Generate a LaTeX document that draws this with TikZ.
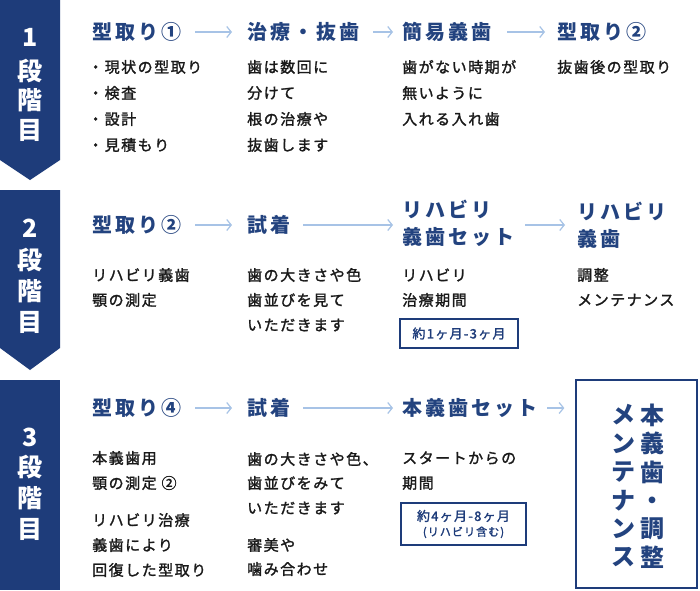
\documentclass[tikz,border=0pt]{standalone}
\usepackage{fontspec}
\usetikzlibrary{arrows.meta}
\newfontfamily\jp{Noto Sans CJK JP}[LetterSpace=10,FakeBold=1.6]
\newfontfamily\jpbox{Noto Sans CJK JP}[LetterSpace=10,FakeBold=1.8]
\newfontfamily\jpt{Noto Sans CJK JP}[LetterSpace=15]
\newfontfamily\jpb{Noto Sans CJK JP}
\definecolor{navyc}{HTML}{1E3C7A}
\definecolor{ttlc}{HTML}{23437F}
\definecolor{arrowblue}{HTML}{A7C3E6}
\definecolor{bodyc}{HTML}{1A1A1A}
\begin{document}
\begin{tikzpicture}[x=1pt,y=-1pt,
  ttl/.style={anchor=west,inner sep=0pt,text=ttlc,align=left,font=\jpt\bfseries\fontsize{20}{27}\selectfont},
  bd/.style={anchor=west,inner sep=0pt,text=bodyc,font=\jp\fontsize{15}{18}\selectfont},
  bch/.style={inner sep=0pt,text=white,font=\jpb\bfseries\fontsize{25}{25}\selectfont},
  arr/.style={draw=arrowblue,line width=1.2pt,-{Straight Barb[length=4.5pt,width=11pt]}},
  pbox/.style={draw=navyc,line width=1.3pt,inner sep=0pt,text=navyc,align=center,font=\jpbox\fontsize{13}{15}\selectfont},
  vt/.style={inner sep=0pt,text=ttlc,align=center,font=\jpb\bfseries\fontsize{24}{28.4}\selectfont}]
\useasboundingbox (0,0) rectangle (700,590);
\fill[white] (0,0) rectangle (700,590);
% banners
\fill[navyc] (0,0) -- (60,0) -- (60,160) -- (30,180) -- (0,160) -- cycle;
\fill[navyc] (0,190) -- (60,190) -- (60,348) -- (30,370) -- (0,348) -- cycle;
\fill[navyc] (0,380) rectangle (60,590);
\node[bch] (b1n) at (30,37) {1};
\node[bch] (b1a) at (30,71) {段};
\node[bch] (b1b) at (30,100) {階};
\node[bch] (b1c) at (30,130) {目};
\node[bch] (b2n) at (30,228) {2};
\node[bch] (b2a) at (30,260) {段};
\node[bch] (b2b) at (30,291) {階};
\node[bch] (b2c) at (30,322) {目};
\node[bch] (b3n) at (30,437) {3};
\node[bch] (b3a) at (30,467) {段};
\node[bch] (b3b) at (30,498) {階};
\node[bch] (b3c) at (30,529) {目};
% row 1
\node[ttl] (t11) at (92,32) {型取り①};
\node[ttl] (t12) at (247,32) {治療・抜歯};
\node[ttl] (t13) at (402,32) {簡易義歯};
\node[ttl] (t14) at (557,32) {型取り②};
\node[bd] (r1a1) at (88,67) {・現状の型取り};
\node[bd] (r1a2) at (88,93) {・検査};
\node[bd] (r1a3) at (88,119) {・設計};
\node[bd] (r1a4) at (88,145) {・見積もり};
\node[bd] (r1b1) at (247,67) {歯は数回に};
\node[bd] (r1b2) at (247,93) {分けて};
\node[bd] (r1b3) at (247,119) {根の治療や};
\node[bd] (r1b4) at (247,145) {抜歯します};
\node[bd] (r1c1) at (402,67) {歯がない時期が};
\node[bd] (r1c2) at (402,93) {無いように};
\node[bd] (r1c3) at (402,119) {入れる入れ歯};
\node[bd] (r1d1) at (557,67) {抜歯後の型取り};
\draw[arr,shorten <=14pt,shorten >=15pt] (t11.east) -- (t12.west);
\draw[arr,shorten <=14pt,shorten >=9pt] (t12.east) -- (t13.west);
\draw[arr,shorten <=16pt,shorten >=12pt] (t13.east) -- (t14.west);
% row 2
\node[ttl] (t21) at (92,225) {型取り②};
\node[ttl] (t22) at (247,225) {試着};
\node[ttl] (t23) at (402,223.5) {リハビリ\\義歯セット};
\node[ttl] (t24) at (577,225) {リハビリ\\義歯};
\node[bd] (r2a1) at (92,275) {リハビリ義歯};
\node[bd] (r2a2) at (92,300) {顎の測定};
\node[bd] (r2b1) at (247,275) {歯の大きさや色};
\node[bd] (r2b2) at (247,300) {歯並びを見て};
\node[bd] (r2b3) at (247,325) {いただきます};
\node[bd] (r2c1) at (402,275) {リハビリ};
\node[bd] (r2c2) at (402,300) {治療期間};
\node[bd] (r2d1) at (577,275) {調整};
\node[bd] (r2d2) at (577,300) {メンテナンス};
\node[pbox,minimum width=118pt,minimum height=29pt] (p1) at (459,333.5) {約1ヶ月-3ヶ月};
\draw[arr,shorten <=14pt,shorten >=15pt] (t21.east) -- (t22.west);
\draw[arr,shorten <=13pt,shorten >=9pt] (t22.east) -- (t22.east -| t23.west);
\draw[arr,shorten <=11pt,shorten >=12pt] (t23.east |- t24.west) -- (t24.west);
% row 3
\node[ttl] (t31) at (92,408) {型取り④};
\node[ttl] (t32) at (247,408) {試着};
\node[ttl] (t33) at (402,408) {本義歯セット};
\node[draw=navyc,line width=1.3pt,minimum width=121pt,minimum height=208pt,inner sep=0pt] (fin) at (636.5,484) {};
\node[vt] (v1) at (652,486) {本\\義\\歯\\・\\調\\整};
\node[vt] (v2) at (623,486) {メ\\ン\\テ\\ナ\\ン\\ス};
\node[bd] (r3a1) at (92,458) {本義歯用};
\node[bd] (r3a2) at (92,483) {顎の測定 ②};
\node[bd] (r3a3) at (92,520) {リハビリ治療};
\node[bd] (r3a4) at (92,545) {義歯により};
\node[bd] (r3a5) at (92,570) {回復した型取り};
\node[bd] (r3b1) at (247,459) {歯の大きさや色、};
\node[bd] (r3b2) at (247,483) {歯並びをみて};
\node[bd] (r3b3) at (247,508) {いただきます};
\node[bd] (r3b4) at (247,545) {審美や};
\node[bd] (r3b5) at (247,569) {噛み合わせ};
\node[bd] (r3c1) at (402,458) {スタートからの};
\node[bd] (r3c2) at (402,483) {期間};
\node[pbox,minimum width=125pt,minimum height=42pt] (p2) at (463.5,524) {約4ヶ月-8ヶ月\\{\fontsize{11}{13}\selectfont (リハビリ含む)}};
\draw[arr,shorten <=14pt,shorten >=15pt] (t31.east) -- (t32.west);
\draw[arr,shorten <=13pt,shorten >=9pt] (t32.east) -- (t33.west);
\draw[arr,shorten <=10pt,shorten >=11pt] (t33.east) -- (t33.east -| fin.west);
\end{tikzpicture}
\end{document}
